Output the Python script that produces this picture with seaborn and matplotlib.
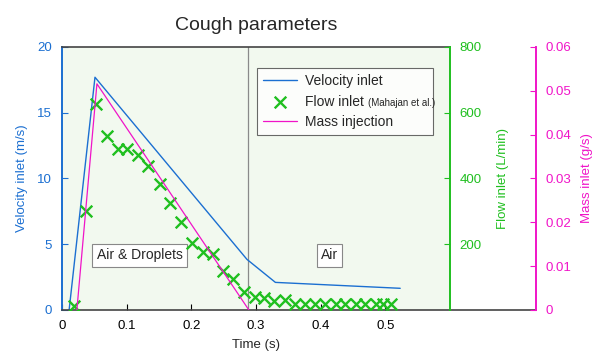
import matplotlib
matplotlib.use("Agg")
import matplotlib.pyplot as plt
import seaborn as sns
import pandas as pd

# ---- data ----
vel_t = [0.011, 0.051, 0.286, 0.330, 0.523]
vel_v = [0.0, 17.7, 3.85, 2.1, 1.65]

mass_t = [0.023, 0.054, 0.289]
mass_v = [0.0, 0.0516, 0.0]

flow_t = [0.019, 0.037, 0.052, 0.069, 0.086, 0.101, 0.117, 0.133, 0.151, 0.167,
          0.184, 0.201, 0.218, 0.233, 0.249, 0.265, 0.281, 0.298, 0.313, 0.328,
          0.345, 0.361, 0.376, 0.392, 0.407, 0.423, 0.438, 0.454, 0.469, 0.485,
          0.497, 0.509]
flow_v = [13, 301, 626, 528, 490, 490, 473, 437, 382, 326,
          268, 205, 175, 170, 119, 94, 54, 40, 36, 26,
          30, 18, 18, 18, 18, 18, 18, 18, 18, 18,
          18, 18]

x_ticks = [0, 0.1, 0.2, 0.3, 0.4, 0.5]
vel_ticks = [0, 5, 10, 15, 20]
flow_ticks = [200, 400, 600, 800]
mass_ticks = [0, 0.01, 0.02, 0.03, 0.04, 0.05, 0.06]
split_t = 0.288

BLUE = "#1b6fd1"
GREEN = "#1fbf1f"
MAGENTA = "#f014c8"
BG = "#f2f9ef"

sns.set_style("white")
plt.rcParams["font.family"] = ["Liberation Sans", "DejaVu Sans"]

fig = plt.figure(figsize=(5.94, 3.59), dpi=100)
ax = fig.add_axes([62/594, 1 - 310/359, (450-62)/594, (310-47)/359])
ax.set_facecolor(BG)
ax2 = ax.twinx()
ax3 = ax.twinx()
ax3.spines["right"].set_position(("axes", 1.2216))

df_vel = pd.DataFrame({"t": vel_t, "v": vel_v})
df_mass = pd.DataFrame({"t": mass_t, "m": mass_v})
df_flow = pd.DataFrame({"t": flow_t, "f": flow_v})

sns.lineplot(data=df_vel, x="t", y="v", ax=ax, color=BLUE, lw=1.0,
             label="Velocity inlet", legend=False, sort=False)
sns.scatterplot(data=df_flow, x="t", y="f", ax=ax2, marker="x", color=GREEN,
                s=70, linewidth=1.7, label="Flow inlet", legend=False, zorder=3)
sns.lineplot(data=df_mass, x="t", y="m", ax=ax3, color=MAGENTA, lw=0.9,
             label="Mass injection", legend=False, sort=False)

ax.axvline(split_t, color="#8a8a8a", lw=0.9, zorder=1)

ax.set_xlim(0, 0.6)
ax.set_ylim(0, 20)
ax2.set_ylim(0, 800)
ax3.set_ylim(0, 0.06)
ax.set_xticks(x_ticks)
ax.set_xticklabels([f"{v:g}" for v in x_ticks])
ax.set_yticks(vel_ticks)
ax2.set_yticks(flow_ticks)
ax3.set_yticks(mass_ticks)
ax3.set_yticklabels([f"{v:g}" for v in mass_ticks])

fs = 9.5
ax.tick_params(axis="x", direction="in", length=4, width=0.8, pad=7,
               labelsize=fs, colors="black", bottom=True)
ax.tick_params(axis="y", direction="in", length=4, width=0.8, pad=7,
               labelsize=fs, colors=BLUE, left=True)
ax2.tick_params(axis="y", direction="in", length=4, width=0.8, pad=7,
                labelsize=fs, colors=GREEN, right=True)
ax3.tick_params(axis="y", direction="in", length=4, width=0.8, pad=7,
                labelsize=fs, colors=MAGENTA, right=True)

ax.set_xlabel("Time (s)", fontsize=fs, labelpad=5)
ax.set_ylabel("Velocity inlet (m/s)", fontsize=fs, color=BLUE, labelpad=7)
ax2.set_ylabel("Flow inlet (L/min)", fontsize=fs, color=GREEN, labelpad=11)
ax3.set_ylabel("Mass inlet (g/s)", fontsize=fs, color=MAGENTA, labelpad=7)

for s in ["top", "bottom"]:
    ax.spines[s].set_color("#444444")
    ax.spines[s].set_linewidth(1.2)
ax.spines["left"].set_color(BLUE)
ax.spines["left"].set_linewidth(1.4)
ax.spines["right"].set_visible(False)
for s in ["top", "bottom", "left"]:
    ax2.spines[s].set_visible(False)
    ax3.spines[s].set_visible(False)
ax2.spines["right"].set_color(GREEN)
ax2.spines["right"].set_linewidth(1.4)
ax3.spines["right"].set_color(MAGENTA)
ax3.spines["right"].set_linewidth(1.4)
# bottom line extending to the mass axis
ax.plot([1, 1.2216], [0, 0], transform=ax.transAxes, color="#444444",
        lw=1.2, clip_on=False)

ax.set_title("Cough parameters", fontsize=14, pad=12)

box = dict(boxstyle="square,pad=0.3", facecolor="white", edgecolor="#888888", lw=0.8)
ax.text(0.120, 4.15, "Air & Droplets", fontsize=10, ha="center", va="center", bbox=box, zorder=2)
ax.text(0.414, 4.15, "Air", fontsize=10, ha="center", va="center", bbox=box, zorder=2)

handles = [ax.lines[0], ax2.collections[0], ax3.lines[0]]
labels = ["Velocity inlet", "Flow inlet", "Mass injection"]
leg = ax3.legend(handles, labels, loc="upper left", mode="expand",
                 bbox_to_anchor=(0.503, 0.658, 0.453, 0.262), fontsize=10,
                 frameon=True, fancybox=False, edgecolor="#444444",
                 handlelength=2.4, handletextpad=0.6, borderaxespad=0,
                 labelspacing=0.45, borderpad=0.45)
leg.get_frame().set_linewidth(0.8)
leg.get_frame().set_facecolor("white")
flow_text = leg.get_texts()[1]
ax3.annotate("(Mahajan et al.)", xy=(1, 0), xycoords=flow_text,
             xytext=(3, 0.5), textcoords="offset points", fontsize=7,
             ha="left", va="bottom", zorder=10)

fig.savefig("out.png", dpi=100)
